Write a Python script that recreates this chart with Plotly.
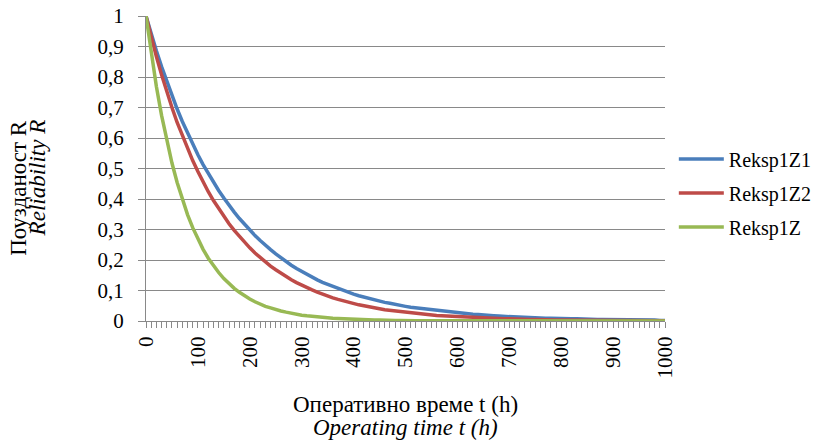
import plotly.graph_objects as go

t_hours = list(range(0, 1001, 10))
tick_labels = [str(v) for v in range(0, 1001, 100)]

r_z1 = [1.000, 0.941, 0.886, 0.834, 0.785, 0.739, 0.695, 0.654, 0.616, 0.580,
        0.545, 0.513, 0.483, 0.455, 0.428, 0.403, 0.379, 0.357, 0.336, 0.316,
        0.297, 0.280, 0.264, 0.248, 0.234, 0.220, 0.207, 0.195, 0.183, 0.172,
        0.162, 0.153, 0.144, 0.135, 0.127, 0.120, 0.113, 0.106, 0.100, 0.094,
        0.088, 0.083, 0.078, 0.074, 0.069, 0.065, 0.061, 0.058, 0.054, 0.051,
        0.048, 0.045, 0.043, 0.040, 0.038, 0.036, 0.034, 0.032, 0.030, 0.028,
        0.026, 0.025, 0.023, 0.022, 0.021, 0.019, 0.018, 0.017, 0.016, 0.015,
        0.014, 0.013, 0.013, 0.012, 0.011, 0.011, 0.010, 0.009, 0.009, 0.008,
        0.008, 0.007, 0.007, 0.007, 0.006, 0.006, 0.005, 0.005, 0.005, 0.005,
        0.004, 0.004, 0.004, 0.004, 0.003, 0.003, 0.003, 0.003, 0.003, 0.002,
        0.002]

r_z2 = [1.000, 0.931, 0.867, 0.807, 0.751, 0.700, 0.651, 0.607, 0.565, 0.526,
        0.490, 0.456, 0.424, 0.395, 0.368, 0.343, 0.319, 0.297, 0.277, 0.257,
        0.240, 0.223, 0.208, 0.193, 0.180, 0.168, 0.156, 0.145, 0.135, 0.126,
        0.117, 0.109, 0.102, 0.095, 0.088, 0.082, 0.076, 0.071, 0.066, 0.062,
        0.057, 0.053, 0.050, 0.046, 0.043, 0.040, 0.037, 0.035, 0.032, 0.030,
        0.028, 0.026, 0.024, 0.023, 0.021, 0.020, 0.018, 0.017, 0.016, 0.015,
        0.014, 0.013, 0.012, 0.011, 0.010, 0.010, 0.009, 0.008, 0.008, 0.007,
        0.007, 0.006, 0.006, 0.005, 0.005, 0.005, 0.004, 0.004, 0.004, 0.003,
        0.003, 0.003, 0.003, 0.003, 0.002, 0.002, 0.002, 0.002, 0.002, 0.002,
        0.002, 0.001, 0.001, 0.001, 0.001, 0.001, 0.001, 0.001, 0.001, 0.001,
        0.001]

r_z = [1.000, 0.877, 0.769, 0.674, 0.591, 0.518, 0.454, 0.398, 0.349, 0.306,
       0.268, 0.235, 0.206, 0.181, 0.159, 0.139, 0.122, 0.107, 0.094, 0.082,
       0.072, 0.063, 0.055, 0.048, 0.043, 0.037, 0.033, 0.029, 0.025, 0.022,
       0.019, 0.017, 0.015, 0.013, 0.011, 0.010, 0.009, 0.008, 0.007, 0.006,
       0.005, 0.005, 0.004, 0.004, 0.003, 0.003, 0.002, 0.002, 0.002, 0.002,
       0.001, 0.001, 0.001, 0.001, 0.001, 0.001, 0.000, 0.000, 0.000, 0.000,
       0.000, 0.000, 0.000, 0.000, 0.000, 0.000, 0.000, 0.000, 0.000, 0.000,
       0.000, 0.000, 0.000, 0.000, 0.000, 0.000, 0.000, 0.000, 0.000, 0.000,
       0.000, 0.000, 0.000, 0.000, 0.000, 0.000, 0.000, 0.000, 0.000, 0.000,
       0.000, 0.000, 0.000, 0.000, 0.000, 0.000, 0.000, 0.000, 0.000, 0.000,
       0.000]

series = [("Reksp1Z1", r_z1, "#4A7EBB"),
          ("Reksp1Z2", r_z2, "#BE4B48"),
          ("Reksp1Z", r_z, "#98B954")]

FONT = "Liberation Serif, Times New Roman, serif"
GRID = "#898989"

fig = go.Figure()
for i, (name, vals, col) in enumerate(series):
    fig.add_trace(go.Scatter(x=t_hours, y=vals, mode="lines", name=name,
                             legendgroup=f"g{i}",
                             line=dict(color=col, width=3.5)))

fig.update_layout(
    width=827, height=441,
    margin=dict(l=146, r=162, t=16, b=120, autoexpand=False),
    paper_bgcolor="white", plot_bgcolor="white",
    separators=", ",
    font=dict(family=FONT, size=20, color="black"),
    showlegend=True,
    legend=dict(x=1.017, y=0.42, xanchor="left", yanchor="middle",
                font=dict(family=FONT, size=20, color="black"),
                traceorder="grouped", tracegroupgap=5, itemwidth=45,
                bgcolor="rgba(0,0,0,0)"),
    xaxis=dict(range=[0, 1000], tickmode="array", automargin=False,
               tickvals=list(range(0, 1001, 100)), ticktext=tick_labels,
               tickangle=-90, ticks="outside", ticklen=6, tickcolor=GRID,
               showgrid=False, zeroline=False, showline=True, linecolor=GRID,
               linewidth=1, tickfont=dict(family=FONT, size=21),
               ticklabeloverflow="allow",
               minor=dict(tickvals=t_hours, ticks="outside", ticklen=6,
                          tickcolor=GRID, showgrid=False)),
    yaxis=dict(range=[0, 1], dtick=0.1, tick0=0, ticks="outside", ticklen=7,
               automargin=False, ticklabeloverflow="allow", ticklabelstandoff=10,
               tickcolor=GRID, showgrid=True, gridcolor=GRID, gridwidth=1,
               zeroline=False, showline=True, linecolor=GRID, linewidth=1,
               tickfont=dict(family=FONT, size=21)),
)

fig.add_annotation(text="Поузданост R", xref="paper", yref="paper",
                   x=-0.2447, y=0.666, xanchor="center", yanchor="top",
                   textangle=-90, showarrow=False,
                   font=dict(family=FONT, size=23))
fig.add_annotation(text="<i>Reliability R</i>", xref="paper", yref="paper",
                   x=-0.210, y=0.666, xanchor="center", yanchor="top",
                   textangle=-90, showarrow=False,
                   font=dict(family=FONT, size=23))
fig.add_annotation(text="Оперативно време t (h)", xref="paper", yref="paper",
                   x=0.5, y=-0.275, xanchor="center", yanchor="middle",
                   showarrow=False, font=dict(family=FONT, size=23))
fig.add_annotation(text="<i>Operating time t (h)</i>", xref="paper", yref="paper",
                   x=0.5, y=-0.3508, xanchor="center", yanchor="middle",
                   showarrow=False, font=dict(family=FONT, size=23))

fig.write_html("out.html", config={"displayModeBar": False},
               post_script="document.body.style.margin='0';")
